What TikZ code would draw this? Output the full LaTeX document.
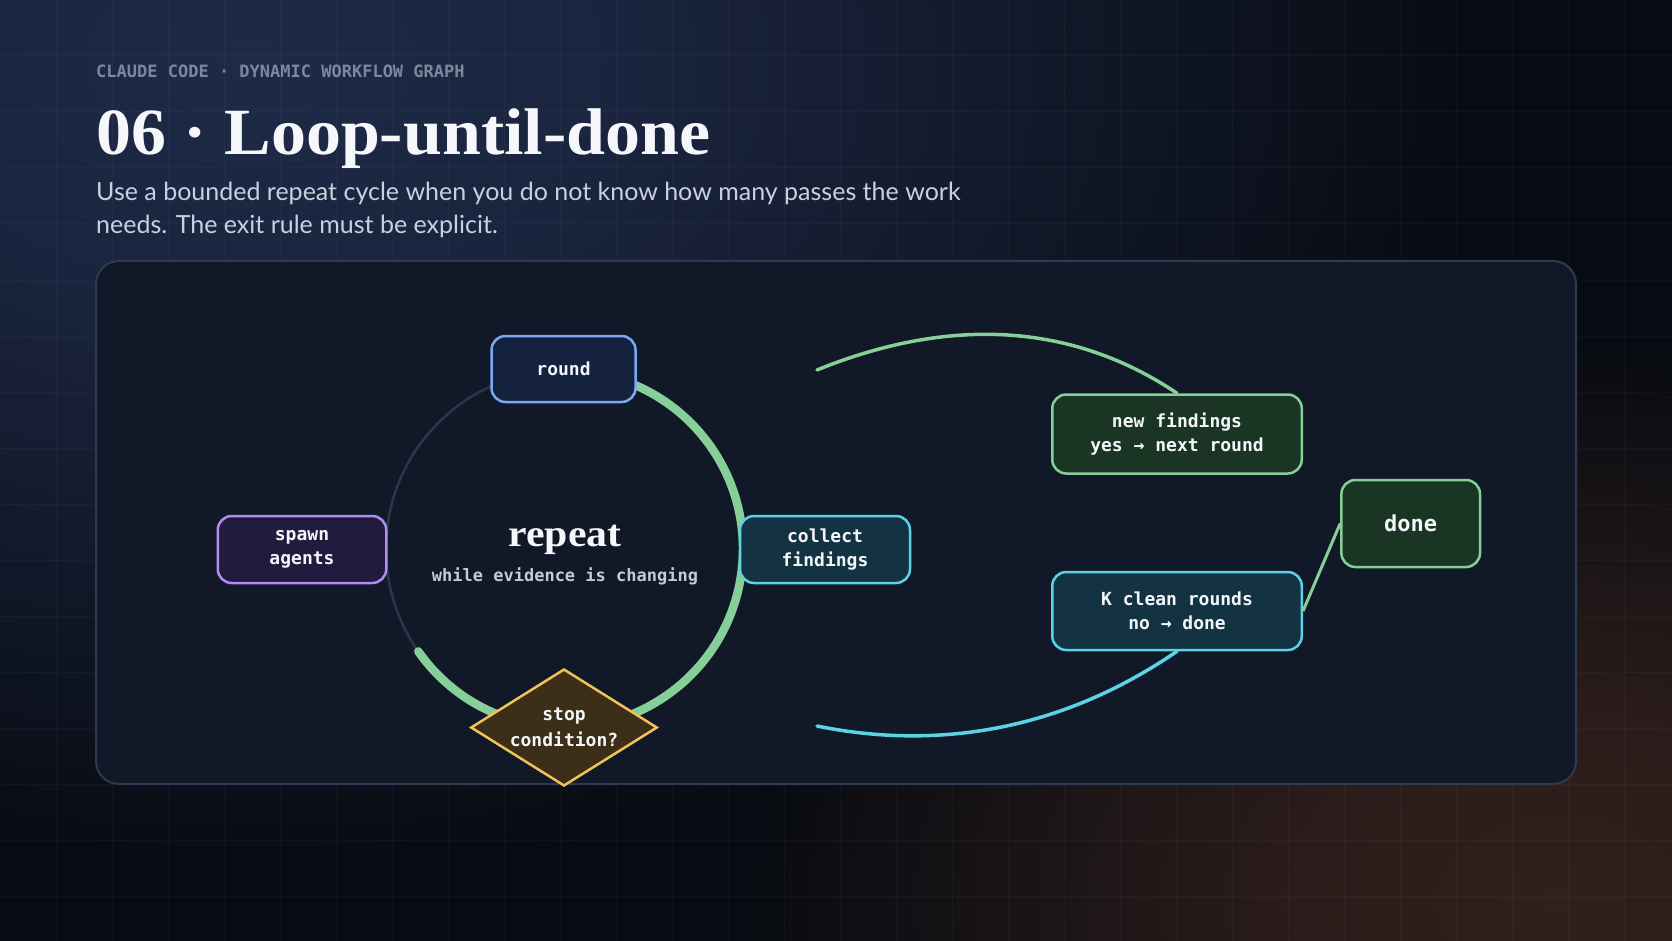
\documentclass[tikz,border=0pt]{standalone}
\usepackage{fontspec}
\setmainfont{Liberation Serif}
\newfontfamily\monof{DejaVu Sans Mono}
\newfontfamily\subf{Lato}
\usetikzlibrary{calc,shapes.geometric}
\definecolor{bgbase}{HTML}{080B12}
\definecolor{bgnavy}{HTML}{1E2A48}
\definecolor{bgbrown}{HTML}{31201C}
\definecolor{panelfill}{HTML}{111828}
\definecolor{panelborder}{HTML}{2E3A50}
\definecolor{headgray}{HTML}{7D889E}
\definecolor{titlewhite}{HTML}{F5F7FB}
\definecolor{subtext}{HTML}{C9D1E0}
\definecolor{ringgray}{HTML}{2C3648}
\definecolor{arcgreen}{HTML}{86CF98}
\definecolor{cyanline}{HTML}{5BD3E6}
\definecolor{roundfill}{HTML}{14223E}
\definecolor{roundb}{HTML}{7BA9F5}
\definecolor{spawnfill}{HTML}{221B3E}
\definecolor{spawnb}{HTML}{B18CF2}
\definecolor{colfill}{HTML}{133342}
\definecolor{nffill}{HTML}{1A3524}
\definecolor{diafill}{HTML}{3D2F17}
\definecolor{diab}{HTML}{F0C05A}
\definecolor{nodetext}{HTML}{F3F6FA}
\definecolor{subtle}{HTML}{C3CBD9}
\pgfdeclareradialshading{glownavy}{\pgfpoint{0bp}{0bp}}{color(0bp)=(bgnavy); color(8bp)=(bgnavy!80!bgbase); color(25bp)=(bgbase); color(50bp)=(bgbase)}
\pgfdeclareradialshading{glowbrown}{\pgfpoint{0bp}{0bp}}{color(0bp)=(bgbrown); color(8bp)=(bgbrown!85!bgbase); color(25bp)=(bgbase); color(50bp)=(bgbase)}
\begin{document}
\begin{tikzpicture}[x=1pt,y=-1pt,
  box/.style={draw, rounded corners=14pt, line width=2.5pt, inner sep=0pt, align=center,
    text=nodetext, font=\monof\bfseries\fontsize{18}{24.5}\selectfont},
  gridline/.style={white, opacity=0.03, line width=1pt},
  flowline/.style={line width=3.5pt, line cap=round},
  plaintext/.style={inner sep=0pt}
]
\useasboundingbox (0,0) rectangle (1672,941);
% background
\begin{scope}
  \clip (0,0) rectangle (1672,941);
  \fill[bgbase] (0,0) rectangle (1672,941);
  \shade[shading=glownavy] (250,60) ellipse [x radius=1250, y radius=820];
  \shade[shading=glowbrown] (1560,900) ellipse [x radius=820, y radius=560];
  \foreach \gx in {56,112,...,1624} \draw[gridline] (\gx,0) -- (\gx,941);
  \foreach \gy in {56,112,...,896} \draw[gridline] (0,\gy) -- (1672,\gy);
\end{scope}
% header
\node[plaintext, anchor=base west, font=\monof\bfseries\fontsize{17}{17}\selectfont, text=headgray] (hdr) at (96,78) {CLAUDE CODE · DYNAMIC WORKFLOW GRAPH};
\node[plaintext, anchor=base west, font=\bfseries\fontsize{66}{66}\selectfont, text=titlewhite] (title) at (96,155) {\scalebox{1.06}[1]{06 · Loop-until-done}};
\node[plaintext, anchor=base west, font=\subf\fontsize{25}{33}\selectfont, text=subtext] (sub1) at (96,200.5) {Use a bounded repeat cycle when you do not know how many passes the work};
\node[plaintext, anchor=base west, font=\subf\fontsize{25}{33}\selectfont, text=subtext] (sub2) at (96,233.5) {needs. The exit rule must be explicit.};
% panel
\draw[fill=panelfill, draw=panelborder, line width=2pt, rounded corners=23pt] (96,261) rectangle (1576,784);
% ring
\coordinate (ctr) at (564.5,549);
\draw[ringgray, line width=2.5pt] (ctr) circle [radius=178.5];
\draw[arcgreen, line width=8.5pt, line cap=round] ($(ctr)+(145:178.5)$) arc [start angle=145, end angle=-90, radius=178.5];
% nodes
\node[box, fill=roundfill, draw=roundb, minimum width=144, minimum height=66] (round) at (563.5,369) {round};
\node[box, fill=spawnfill, draw=spawnb, minimum width=168.5, minimum height=67] (spawn) at (302,549.5) {spawn\\agents};
\node[box, fill=colfill, draw=cyanline, minimum width=170, minimum height=67] (collect) at (825,549.5) {collect\\findings};
\node[draw=diab, fill=diafill, line width=2.5pt, shape=diamond, shape aspect=1.6, inner sep=0pt,
  minimum width=186.6, minimum height=117, align=center, text=nodetext,
  font=\monof\bfseries\fontsize{18}{25.5}\selectfont] (stop) at (564,727.5) {stop\\condition?};
\node[plaintext, anchor=base, font=\bfseries\fontsize{38}{38}\selectfont, text=titlewhite] (rep) at (565,546) {\scalebox{1.1}[1]{repeat}};
\node[plaintext, anchor=base, font=\monof\bfseries\fontsize{17}{17}\selectfont, text=subtle] (whl) at (565,581) {while evidence is changing};
% right side
\node[box, fill=nffill, draw=arcgreen, minimum width=249.5, minimum height=79] (nf) at (1177,434) {new findings\\yes → next round};
\node[box, fill=colfill, draw=cyanline, minimum width=249.5, minimum height=78] (kc) at (1177,611) {K clean rounds\\no → done};
\node[box, fill=nffill, draw=arcgreen, minimum width=138.6, minimum height=87, font=\monof\bfseries\fontsize{22}{22}\selectfont] (done) at (1410.7,523.5) {done};
\coordinate (gs) at (817,370);
\coordinate (cs) at (817,726);
\draw[arcgreen, flowline] (gs) .. controls (940,320) and (1065,318) .. (nf.north);
\draw[cyanline, flowline] (cs) .. controls (915,746) and (1045,742) .. (kc.south);
\draw[arcgreen, line width=3pt] (kc.east) -- (done.west);
\end{tikzpicture}
\end{document}
